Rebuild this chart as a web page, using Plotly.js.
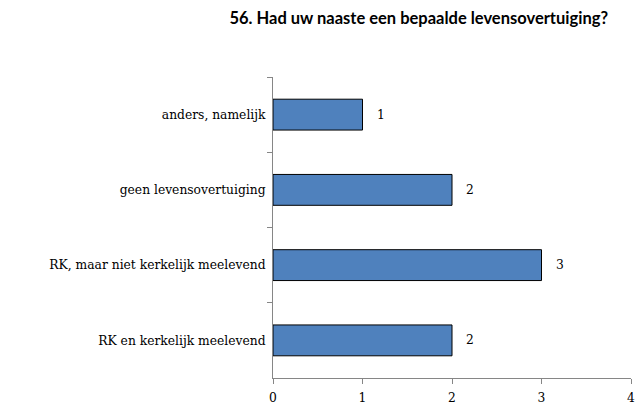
<!DOCTYPE html>
<html><head><meta charset="utf-8">
<script src="https://cdn.plot.ly/plotly-3.0.1.min.js"></script>
<style>body{margin:0;background:#fff}#c{width:636px;height:406px}</style>
</head><body><div id="c"></div>
<script>
const categories = ["anders, namelijk", "geen levensovertuiging", "RK, maar niet kerkelijk meelevend", "RK en kerkelijk meelevend"];
const counts = [1, 2, 3, 2];
const xTicks = [0, 1, 2, 3, 4];
const chartTitle = "56. Had uw naaste een bepaalde levensovertuiging?";

const serif = "DejaVu Serif";
Plotly.newPlot("c", [{
  type: "bar", orientation: "h",
  y: categories, x: counts,
  textposition: "none",
  marker: {color: "#4F81BD", line: {color: "#000000", width: 1}},
  width: 0.41,
  hoverinfo: "none"
}], {
  width: 636, height: 406,
  margin: {l: 273, r: 5, t: 77, b: 28},
  paper_bgcolor: "#fff", plot_bgcolor: "#fff",
  showlegend: false,
  font: {family: serif, size: 12.3, color: "#000"},
  title: {text: "<b>" + chartTitle + "</b>", x: 0.956, xanchor: "right", y: 0.955, yanchor: "middle",
          font: {family: "Lato", size: 16.5, color: "#000"}},
  xaxis: {range: [0, 4], tickvals: xTicks, ticktext: xTicks.map(String), showgrid: false, zeroline: false,
          showline: true, linecolor: "#868686", linewidth: 1, ticks: "outside", ticklen: 5, tickcolor: "#868686",
          ticklabelstandoff: 3,
          tickfont: {family: serif, size: 12.3, color: "#000"}, fixedrange: true},
  yaxis: {type: "category", autorange: "reversed", showgrid: false, zeroline: false,
          showline: true, linecolor: "#868686", linewidth: 1, ticks: "outside", ticklen: 5, tickcolor: "#868686",
          tickson: "boundaries", ticklabelstandoff: 4,
          tickfont: {family: serif, size: 12.3, color: "#000"}, fixedrange: true},
  annotations: categories.map((c, i) => ({
    x: counts[i], y: c, xref: "x", yref: "y", text: String(counts[i]),
    showarrow: false, xanchor: "left", xshift: 12,
    font: {family: serif, size: 12.3, color: "#000"}
  }))
}, {displayModeBar: false, staticPlot: true});
</script></body></html>
